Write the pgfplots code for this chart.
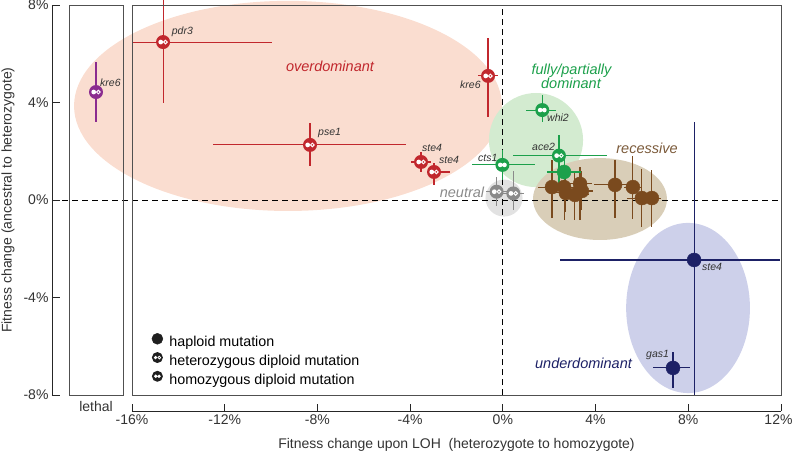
\documentclass[border=0pt]{standalone}
\usepackage{pgfplots}
\usepackage{pgfplotstable}
\pgfplotsset{compat=1.18}
\usepackage{fontspec}
\setmainfont{Liberation Sans}

\definecolor{cred}{HTML}{C1272D}
\definecolor{cpur}{HTML}{8B2C8F}
\definecolor{cgreen}{HTML}{1CA04B}
\definecolor{cgrey}{HTML}{8A8A8A}
\definecolor{cbrown}{HTML}{7A4A1E}
\definecolor{cnavy}{HTML}{1D2166}
\definecolor{fpink}{HTML}{FADDD0}
\definecolor{fgreen}{HTML}{D3EBD0}
\definecolor{fbrown}{HTML}{D9CEB8}
\definecolor{fgrey}{HTML}{E2E2E2}
\definecolor{fblue}{HTML}{CDD0EA}
\definecolor{boxc}{HTML}{505050}
\definecolor{tbrown}{HTML}{7B5A3A}

\pgfdeclareplotmark{het}{%
  \pgfpathcircle{\pgfpointorigin}{\pgfplotmarksize}\pgfusepathqfill
  \begin{pgfscope}
  \pgfsetfillcolor{white}\pgfsetstrokecolor{white}%
  \pgfpathcircle{\pgfpoint{-0.33\pgfplotmarksize}{0pt}}{0.34\pgfplotmarksize}\pgfusepathqfill
  \pgfsetlinewidth{0.14\pgfplotmarksize}%
  \pgfpathcircle{\pgfpoint{0.34\pgfplotmarksize}{0pt}}{0.26\pgfplotmarksize}\pgfusepathqstroke
  \end{pgfscope}
}
\pgfdeclareplotmark{hom}{%
  \pgfpathcircle{\pgfpointorigin}{\pgfplotmarksize}\pgfusepathqfill
  \begin{pgfscope}
  \pgfsetfillcolor{white}%
  \pgfpathcircle{\pgfpoint{-0.3\pgfplotmarksize}{0pt}}{0.33\pgfplotmarksize}%
  \pgfpathcircle{\pgfpoint{0.3\pgfplotmarksize}{0pt}}{0.33\pgfplotmarksize}\pgfusepathqfill
  \end{pgfscope}
}

\pgfplotstableread{
x y xm xp ym yp
-14.66 6.48 1.30 4.70 2.50 2.30
-8.32 2.26 4.19 4.14 0.87 0.90
-3.53 1.56 0.45 0.45 0.40 0.40
-2.97 1.15 0.32 0.69 0.55 0.35
-0.64 5.09 0.45 0.45 1.68 1.56
}\redtab
\pgfplotstableread{
x y xm xp ym yp
0.5 4.43 0 0 1.23 1.23
}\purtab
\pgfplotstableread{
x y xm xp ym yp
1.70 3.69 0.70 0.58 0.50 0.60
-0.02 1.44 1.32 1.41 0.62 0.60
}\greenhom
\pgfplotstableread{
x y xm xp ym yp
2.42 1.82 1.98 2.07 1.20 0.85
}\greenhet
\pgfplotstableread{
x y xm xp ym yp
2.64 1.15 0.75 0.75 0.55 0.55
}\greenhap
\pgfplotstableread{
x y xm xp ym yp
-0.27 0.34 0.45 0.45 0.60 0.60
0.45 0.27 0.45 0.45 0.70 0.90
}\greytab
\pgfplotstableread{
x y xm xp ym yp
2.12 0.53 0.60 0.65 1.27 1.11
2.64 0.53 0.60 0.60 1.35 1.23
3.33 0.66 0.50 0.50 1.48 0.71
2.72 0.29 0.50 0.50 0.77 0.94
3.11 0.21 0.60 0.60 1.03 0.90
3.41 0.37 0.50 0.50 0.80 0.80
4.84 0.62 0.91 0.73 1.36 1.02
5.61 0.53 0.40 0.40 1.31 1.27
6.00 0.08 0.65 0.65 1.19 1.19
6.43 0.08 0.40 0.40 1.19 1.15
}\browntab
\pgfplotstableread{
x y xm xp ym yp
8.25 -2.46 5.78 3.70 5.54 5.66
7.34 -6.89 0.86 0.73 0.82 0.65
}\navytab

\pgfplotsset{
  panel/.style={scale only axis, height=390pt, ymin=-8, ymax=8, clip=false,
    xtick=\empty, ytick=\empty, axis line style={draw=boxc, line width=1pt}},
  eb/.style={only marks, forget plot, mark size=7pt,
    error bars/x dir=both, error bars/x explicit,
    error bars/y dir=both, error bars/y explicit,
    error bars/error mark=none,
    error bars/error bar style={line width=1.1pt, #1}},
}
\tikzset{
  gl/.style={font=\fontsize{10.5}{12}\selectfont\itshape, text=black!80, inner sep=0pt, anchor=west},
  cl/.style={font=\fontsize{14.5}{17}\selectfont\itshape, inner sep=0pt, anchor=center},
}

\begin{document}
\begin{tikzpicture}
\useasboundingbox (0,0) rectangle (793pt,453pt);
\clip (0,0) rectangle (793pt,453pt);

% main panel
\begin{axis}[panel, at={(132pt,58pt)}, anchor=south west, width=649pt,
  xmin=-16, xmax=12, axis on top,
  legend style={at={(axis cs:-15.15,-5.46)}, anchor=north west, draw=none, fill=none,
    inner sep=0pt, row sep=2.5pt, column sep=0pt,
    font=\fontsize{14.3}{17}\selectfont,
    nodes={inner sep=0pt, text height=10.5pt, text depth=3pt}},
  legend cell align=left,
  legend image code/.code={\draw[#1, yshift=4pt] plot coordinates {(0pt,0pt)};
     \path[draw=none, fill=none] (-5.5pt,0pt) rectangle (12pt,1pt);}]
\fill[fpink] (axis cs:-9.27,3.86) ellipse [x radius=9.23, y radius=4.31];
\fill[fgreen] (axis cs:1.43,2.46) ellipse [x radius=2.03, y radius=1.93];
\fill[fbrown] (axis cs:4.19,0.04) ellipse [x radius=2.89, y radius=1.68];
\fill[fgrey] (axis cs:0.05,0.08) ellipse [x radius=0.8, y radius=0.76];
\fill[fblue] (axis cs:7.99,-4.43) ellipse [x radius=2.67, y radius=3.49];
\draw[dash pattern=on 6pt off 4pt, line width=0.9pt] (axis cs:-19.45,0) -- (axis cs:12,0);
\draw[dash pattern=on 6pt off 4pt, line width=0.9pt] (axis cs:0,-8) -- (axis cs:0,8);

\addplot[eb=cbrown, color=cbrown, mark=*] table[x=x, y=y, x error minus=xm, x error plus=xp, y error minus=ym, y error plus=yp] {\browntab};
\addplot[eb=cgrey, color=cgrey, mark=het] table[x=x, y=y, x error minus=xm, x error plus=xp, y error minus=ym, y error plus=yp] {\greytab};
\addplot[eb=cgreen, color=cgreen, mark=hom] table[x=x, y=y, x error minus=xm, x error plus=xp, y error minus=ym, y error plus=yp] {\greenhom};
\addplot[eb=cgreen, color=cgreen, mark=het] table[x=x, y=y, x error minus=xm, x error plus=xp, y error minus=ym, y error plus=yp] {\greenhet};
\addplot[eb=cgreen, color=cgreen, mark=*] table[x=x, y=y, x error minus=xm, x error plus=xp, y error minus=ym, y error plus=yp] {\greenhap};
\addplot[eb=cred, color=cred, mark=het] table[x=x, y=y, x error minus=xm, x error plus=xp, y error minus=ym, y error plus=yp] {\redtab};
\addplot[eb=cnavy, color=cnavy, mark=*] table[x=x, y=y, x error minus=xm, x error plus=xp, y error minus=ym, y error plus=yp] {\navytab};

\addlegendimage{only marks, mark=*, mark size=5.5pt, color=black!88}
\addlegendentry{haploid mutation}
\addlegendimage{only marks, mark=het, mark size=5.5pt, color=black!88}
\addlegendentry{heterozygous diploid mutation}
\addlegendimage{only marks, mark=hom, mark size=5.5pt, color=black!88}
\addlegendentry{homozygous diploid mutation}
\end{axis}

% lethal panel
\begin{axis}[panel, at={(69pt,58pt)}, anchor=south west, width=54pt,
  xmin=0, xmax=1, xtick={0.5}, xticklabels={lethal}, xtick style={draw=none},
  xticklabel style={font=\fontsize{14}{16}\selectfont, text=black!80, yshift=-3pt}]
\addplot[eb=cpur, color=cpur, mark=het] table[x=x, y=y, x error minus=xm, x error plus=xp, y error minus=ym, y error plus=yp] {\purtab};
\end{axis}

% y axis
\begin{axis}[scale only axis, at={(52pt,58pt)}, anchor=south west, width=10pt, height=390pt,
  xmin=0, xmax=1, ymin=-8, ymax=8, hide x axis, axis y line=left,
  axis line style={-, draw=black!85, line width=0.8pt},
  ytick={-8,-4,0,4,8}, yticklabels={-8\%,-4\%,0\%,4\%,8\%},
  tick align=inside, major tick length=8pt, tick style={black!85, line width=0.8pt},
  yticklabel style={font=\fontsize{14}{16}\selectfont, text=black!80},
  ylabel={Fitness change (ancestral to heterozygote)},
  every axis y label/.style={at={(axis description cs:-4.4,0.5)}, rotate=90, anchor=center,
    font=\fontsize{14}{16}\selectfont, text=black!80}]
\end{axis}

% x axis
\begin{axis}[scale only axis, at={(132pt,42pt)}, anchor=south west, width=649pt, height=10pt,
  xmin=-16, xmax=12, ymin=0, ymax=1, hide y axis, axis x line=bottom,
  axis line style={-, draw=black!85, line width=0.8pt},
  xtick={-16,-12,-8,-4,0,4,8,12},
  xticklabels={-16\%,-12\%,-8\%,-4\%,0\%,4\%,8\%,12\%\hspace*{5pt}},
  tick align=inside, major tick length=7pt, tick style={black!85, line width=0.8pt},
  xticklabel style={font=\fontsize{14}{16}\selectfont, text=black!80},
  xlabel={Fitness change upon LOH\ \ (heterozygote to homozygote)},
  every axis x label/.style={at={(axis description cs:0.5,-3.4)}, anchor=center,
    font=\fontsize{14}{16}\selectfont, text=black!80}]
\end{axis}

% gene labels
\node[gl] at (100pt,370pt) {kre6};
\node[gl] at (171.7pt,421pt) {pdr3};
\node[gl] at (318pt,320pt) {pse1};
\node[gl] at (422pt,305pt) {ste4};
\node[gl] at (439pt,293pt) {ste4};
\node[gl] at (460pt,368pt) {kre6};
\node[gl] at (547pt,335pt) {whi2};
\node[gl] at (532pt,306pt) {ace2};
\node[gl] at (478pt,295pt) {cts1};
\node[gl] at (702pt,186pt) {ste4};
\node[gl] at (646pt,98pt) {gas1};

% category labels
\node[cl, text=cred] at (330pt,387pt) {overdominant};
\node[cl, text=cgreen] at (571.5pt,382.3pt) {fully/partially};
\node[cl, text=cgreen] at (571pt,369.3pt) {dominant};
\node[cl, text=tbrown] at (647pt,305pt) {recessive};
\node[cl, text=cgrey] at (462pt,261pt) {neutral};
\node[cl, text=cnavy] at (583.5pt,90pt) {underdominant};
\end{tikzpicture}
\end{document}
